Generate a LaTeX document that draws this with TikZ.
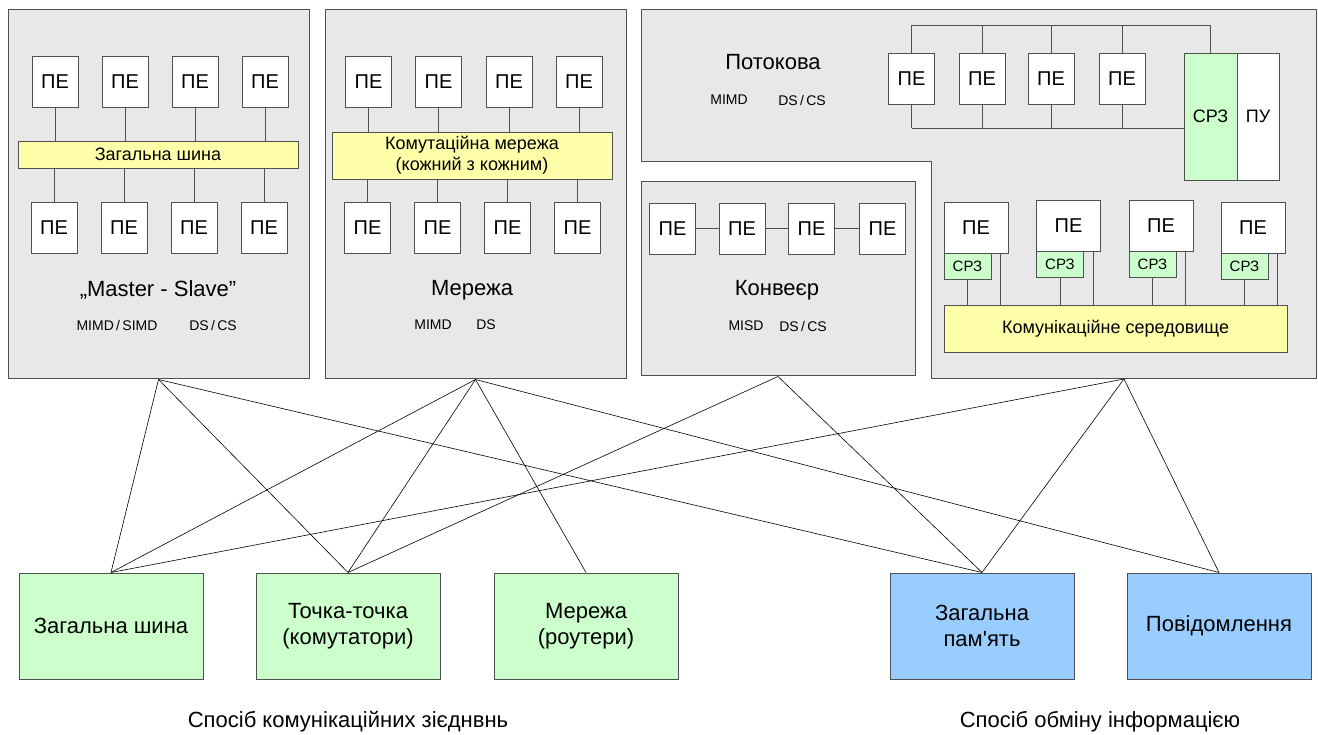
\documentclass[tikz,border=0pt]{standalone}
\usepackage{fontspec}
\setmainfont{Liberation Sans}
\definecolor{panelfill}{HTML}{E8E8E8}
\definecolor{edgegray}{HTML}{505050}
\definecolor{busyellow}{HTML}{FFFFAA}
\definecolor{lightgreen}{HTML}{CCFFCC}
\definecolor{lightblue}{HTML}{99CCFF}
\newcommand{\fs}[1]{\fontsize{#1}{#1}\selectfont}
\begin{document}
\begin{tikzpicture}[x=1pt,y=-1pt,
  panel/.style={draw=edgegray,fill=panelfill,line width=1pt,inner sep=0pt},
  pe/.style={draw=edgegray,fill=white,line width=0.8pt,inner sep=0pt,
    minimum width=46pt,minimum height=51pt,font=\fs{20}},
  bigpe/.style={pe,minimum width=64pt},
  bus/.style={draw=edgegray,fill=busyellow,line width=0.8pt,inner sep=0pt,align=center},
  srz/.style={draw=edgegray,fill=lightgreen,line width=0.8pt,inner sep=0pt,
    minimum width=47pt,minimum height=26pt,font=\fs{15}},
  kind/.style={font=\fs{22}},
  tag/.style={font=\fs{14}},
  cat/.style={draw=edgegray,line width=1pt,inner sep=0pt,minimum width=184pt,
    minimum height=106pt,align=center,font=\fontsize{22}{26}\selectfont},
  wire/.style={draw=edgegray,line width=0.8pt},
  link/.style={draw=black,line width=0.6pt}]
\useasboundingbox (0,0) rectangle (1318,735);

% ---------- Master - Slave ----------
\node[panel,minimum width=301pt,minimum height=369pt] (P1) at (158.5,194.5) {};
\node[bus,minimum width=280pt,minimum height=27pt,font=\fs{18}] (bus1) at (158,154.5) {Загальна шина};
\foreach \i/\x in {1/55,2/125,3/195,4/265}{
  \node[pe] (a\i) at (\x,82) {ПЕ};
  \draw[wire] (a\i.south) -- (a\i.south |- bus1.north);
}
\foreach \i/\x in {1/54,2/124,3/194,4/264}{
  \node[pe] (b\i) at (\x,227.5) {ПЕ};
  \draw[wire] (b\i.north) -- (b\i.north |- bus1.south);
}
\node[kind] (ms) at (158,290) {„Master - Slave”};
\node[tag] (ms1) at (117,325) {MIMD\,/\,SIMD};
\node[tag] (ms2) at (213,325) {DS\,/\,CS};

% ---------- Network ----------
\node[panel,minimum width=301pt,minimum height=369pt] (P2) at (475.5,194.5) {};
\node[bus,minimum width=280pt,minimum height=47pt,font=\fs{18}] (bus2) at (472,155.5)
  {Комутаційна мережа\\[3pt](кожний з кожним)};
\foreach \i/\x in {1/368.5,2/438.5,3/509,4/579}{
  \node[pe] (c\i) at (\x,82) {ПЕ};
  \draw[wire] (c\i.south) -- (c\i.south |- bus2.north);
}
\foreach \i/\x in {1/367.5,2/437.5,3/507.5,4/577.5}{
  \node[pe] (d\i) at (\x,227.5) {ПЕ};
  \draw[wire] (d\i.north) -- (d\i.north |- bus2.south);
}
\node[kind] (nw) at (472,290) {Мережа};
\node[tag] (nw1) at (433,325) {MIMD};
\node[tag] (nw2) at (486,325) {DS};

% ---------- Pipeline ----------
\node[panel,minimum width=274pt,minimum height=194pt] (P3) at (778,279) {};
\foreach \i/\x in {1/672.5,2/742,3/811.5,4/882.5}{
  \node[pe] (e\i) at (\x,228.5) {ПЕ};
}
\draw[wire] (e1) -- (e2) (e2) -- (e3) (e3) -- (e4);
\node[kind] (pl) at (777,290) {Конвеєр};
\node[tag] (pl1) at (746,326) {MISD};
\node[tag] (pl2) at (803,326) {DS\,/\,CS};

% ---------- Dataflow ----------
\draw[panel] (641,10) -- (1316,10) -- (1316,379) -- (931,379) -- (931,162) -- (641,162) -- cycle;
\coordinate (P4) at (1124,379);
\node[kind] (df) at (773,62) {Потокова};
\node[tag] (df1) at (729,100) {MIMD};
\node[tag] (df2) at (802,100) {DS\,/\,CS};
\node[draw=edgegray,fill=lightgreen,line width=0.8pt,inner sep=0pt,minimum width=53pt,
  minimum height=127pt,font=\fs{18}] (srz0) at (1210.5,116.5) {СРЗ};
\node[draw=edgegray,fill=white,line width=0.8pt,inner sep=0pt,minimum width=42pt,
  minimum height=127pt,font=\fs{18}] (pu) at (1258,116.5) {ПУ};
\coordinate (tb) at (0,25);
\coordinate (bb) at (0,128);
\foreach \i/\x in {1/911.5,2/982,3/1051,4/1122}{
  \node[pe] (f\i) at (\x,78.5) {ПЕ};
  \draw[wire] (f\i.north) -- (f\i.north |- tb);
  \draw[wire] (f\i.south) -- (f\i.south |- bb);
}
\draw[wire] (f1.north |- tb) -- (srz0.north |- tb) -- (srz0.north);
\draw[wire] (f1.south |- bb) -- (srz0.west |- bb);

\node[bus,minimum width=343pt,minimum height=47pt,font=\fs{18}] (med) at (1115.5,328.5)
  {Комунікаційне середовище};
\foreach \i/\x/\y in {1/976/227.5,2/1068.5/225.5,3/1161/225.5,4/1253/227.5}{
  \node[bigpe] (g\i) at (\x,\y) {ПЕ};
  \node[srz,anchor=north west] (s\i) at (g\i.south west) {СРЗ};
  \draw[wire] (s\i.south) -- (s\i.south |- med.north);
  \draw[wire] ([xshift=-8pt]g\i.south east) -- ([xshift=-8pt]g\i.south east |- med.north);
}

% ---------- Categories ----------
\node[cat,fill=lightgreen] (k1) at (111,626) {Загальна шина};
\node[cat,fill=lightgreen] (k2) at (348,626) {Точка-точка\\(комутатори)};
\node[cat,fill=lightgreen] (k3) at (586,626) {Мережа\\(роутери)};
\node[cat,fill=lightblue] (k4) at (982,626) {Загальна\\пам\textquotesingle ять};
\node[cat,fill=lightblue] (k5) at (1219,626) {Повідомлення};

\node[font=\fs{22}] (h1) at (348,722) {Спосіб комунікаційних зієднвнь};
\node[font=\fs{22}] (h2) at (1100,722) {Спосіб обміну інформацією};

% ---------- Links ----------
\draw[link] (P1.south) -- (k1.north);
\draw[link] (P1.south) -- (k2.north);
\draw[link] (P1.south) -- (k4.north);
\draw[link] (P2.south) -- (k1.north);
\draw[link] (P2.south) -- (k2.north);
\draw[link] (P2.south) -- (k3.north);
\draw[link] (P2.south) -- (k5.north);
\draw[link] (P3.south) -- (k2.north);
\draw[link] (P3.south) -- (k4.north);
\draw[link] (P4) -- (k1.north);
\draw[link] (P4) -- (k4.north);
\draw[link] (P4) -- (k5.north);
\end{tikzpicture}
\end{document}
